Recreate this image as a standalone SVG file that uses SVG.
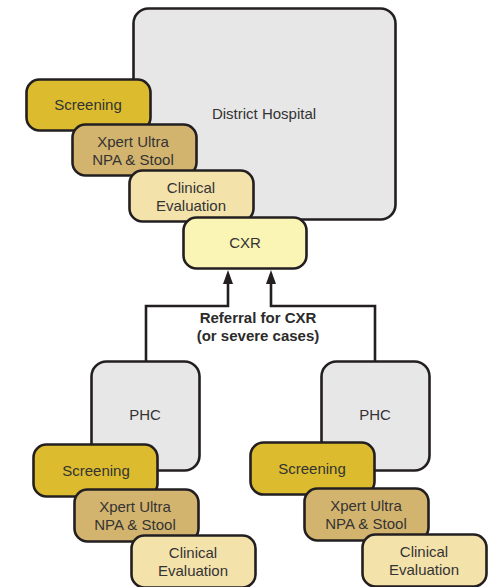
<svg xmlns="http://www.w3.org/2000/svg" width="491" height="587" viewBox="0 0 491 587">
<style>
.box{stroke:#231f20;stroke-width:2.6}
.site{fill:#e7e7e8}
.scr{fill:#dcbc2e}
.xp{fill:#d3b46e}
.cl{fill:#f4e2ab}
.cxr{fill:#faf4b5}
text{font-family:"Liberation Sans",Arial,sans-serif;font-size:15px;fill:#333;text-anchor:middle}
.lbl{font-weight:bold;font-size:15px;fill:#2b2b2b}
.conn{fill:none;stroke:#231f20;stroke-width:2.6}
.head{fill:#231f20}
</style>
<g id="district-hospital"><rect class="box site" x="133.5" y="8.5" width="262" height="211" rx="15"/><text x="264" y="119">District Hospital</text></g>
<g id="dh-screening"><rect class="box scr" x="26.5" y="79.5" width="124" height="51" rx="13"/><text x="88" y="110">Screening</text></g>
<g id="dh-xpert"><rect class="box xp" x="72.5" y="124.5" width="124" height="51" rx="13"/><text x="133" y="147">Xpert Ultra</text><text x="133" y="165">NPA &amp; Stool</text></g>
<g id="dh-clinical"><rect class="box cl" x="129.5" y="170.5" width="124" height="51" rx="13"/><text x="191" y="193">Clinical</text><text x="191" y="211">Evaluation</text></g>
<g id="cxr"><rect class="box cxr" x="183.5" y="217.5" width="123" height="51" rx="13"/><text x="245" y="248">CXR</text></g>
<g id="connectors">
<path class="conn" d="M146,361 V306 H228 V280"/>
<path class="conn" d="M375,361 V306 H271 V280"/>
<polygon class="head" points="228,270 233,284 223,284"/>
<polygon class="head" points="271,270 276,284 266,284"/>
</g>
<g id="referral-label"><text class="lbl" x="258" y="323">Referral for CXR</text><text class="lbl" x="258" y="341">(or severe cases)</text></g>
<g id="phc-left"><rect class="box site" x="91.5" y="361.5" width="108" height="109" rx="15"/><text x="145" y="420">PHC</text></g>
<g id="phc-left-screening"><rect class="box scr" x="33.5" y="444.5" width="124" height="52" rx="13"/><text x="96" y="476">Screening</text></g>
<g id="phc-left-xpert"><rect class="box xp" x="74.5" y="489.5" width="124" height="52" rx="13"/><text x="135" y="512">Xpert Ultra</text><text x="135" y="530">NPA &amp; Stool</text></g>
<g id="phc-left-clinical"><rect class="box cl" x="131.5" y="535.5" width="124" height="52" rx="13"/><text x="193" y="558">Clinical</text><text x="193" y="576">Evaluation</text></g>
<g id="phc-right"><rect class="box site" x="321.5" y="361.5" width="108" height="109" rx="15"/><text x="375" y="420">PHC</text></g>
<g id="phc-right-screening"><rect class="box scr" x="250.5" y="442.5" width="124" height="52" rx="13"/><text x="312" y="474">Screening</text></g>
<g id="phc-right-xpert"><rect class="box xp" x="304.5" y="488.5" width="124" height="52" rx="13"/><text x="366" y="511">Xpert Ultra</text><text x="366" y="529">NPA &amp; Stool</text></g>
<g id="phc-right-clinical"><rect class="box cl" x="362.5" y="534.5" width="124" height="52" rx="13"/><text x="424" y="557">Clinical</text><text x="424" y="575">Evaluation</text></g>
</svg>
